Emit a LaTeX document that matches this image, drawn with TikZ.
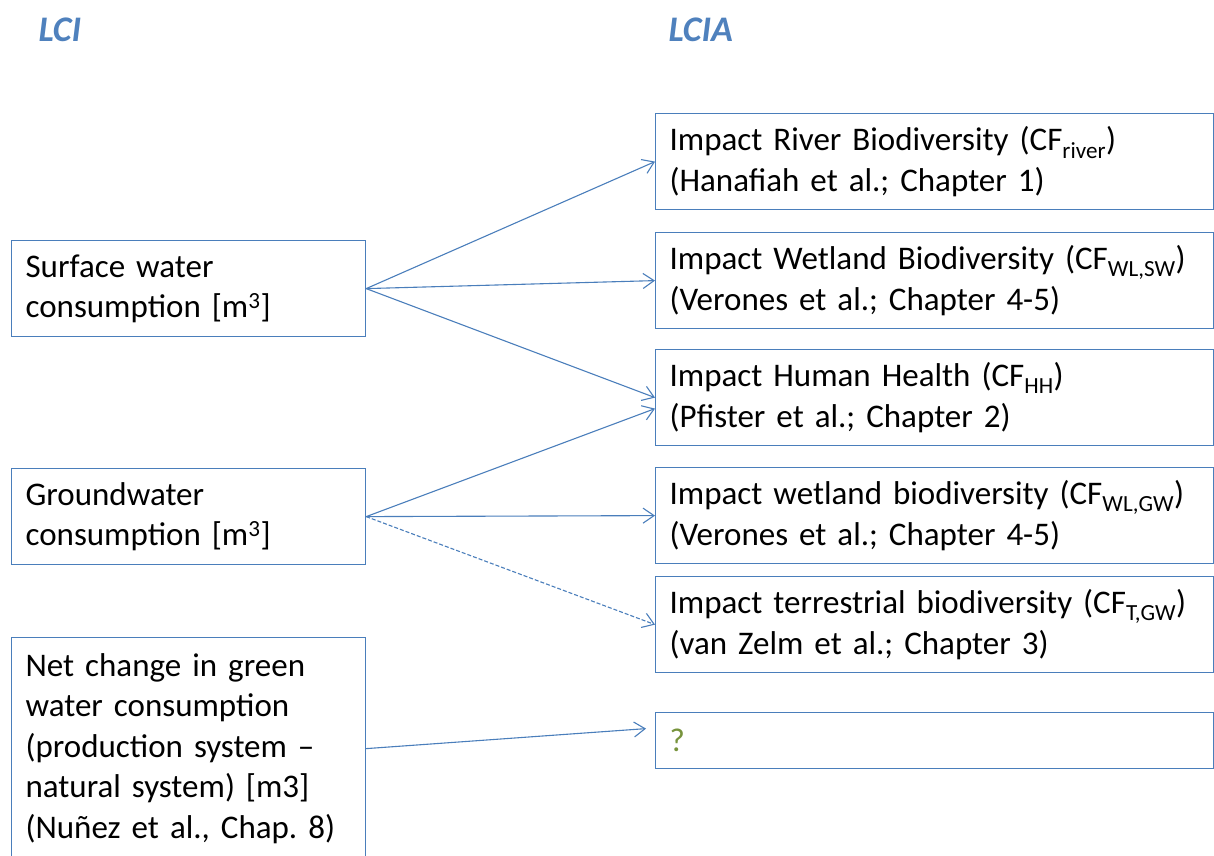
\documentclass[tikz,border=0pt]{standalone}
\usepackage{fontspec}
\setmainfont[WordSpace=0.75]{Carlito}
\usetikzlibrary{arrows.meta}
\definecolor{lineblue}{HTML}{4A7EBB}
\definecolor{titleblue}{HTML}{4F81BD}
\definecolor{qgreen}{HTML}{77933C}
\frenchspacing
\tikzset{
  box/.style={draw=lineblue, line width=1.2pt, anchor=north west, inner xsep=14pt, inner ysep=0pt, align=left, font=\fontsize{33}{40.5}\selectfont},
  lbox/.style={box, text width=326pt, minimum height=96pt},
  rbox/.style={box, text width=530pt, minimum height=96pt},
  arr/.style={draw=lineblue, line width=1.1pt, -{Straight Barb[length=11pt,width=15pt,line width=1.1pt]}},
  title/.style={anchor=west, text=titleblue, font=\fontsize{36}{40}\selectfont\bfseries\itshape}
}
\begin{document}
\begin{tikzpicture}[x=1pt,y=-1pt]
\useasboundingbox (0,0) rectangle (1214,855);
\node[title] (lci) at (35,30) {LCI};
\node[title] (lcia) at (665,30) {LCIA};

\node[lbox] (sw) at (11,240) {Surface water\\consumption [m\textsuperscript{3}]};
\node[lbox] (gw) at (11,468) {Groundwater\\consumption [m\textsuperscript{3}]};
\node[lbox, minimum height=222pt] (gr) at (11,637) {Net change in green\\water consumption\\(production system --\\natural system) [m3]\\(Nuñez et al., Chap. 8)};

\node[rbox] (river) at (655,113) {Impact River Biodiversity (CF\textsubscript{river})\\(Hanafiah et al.; Chapter 1)};
\node[rbox] (wlsw) at (655,232) {Impact Wetland Biodiversity (CF\textsubscript{WL,SW})\\(Verones et al.; Chapter 4-5)};
\node[rbox] (hh) at (655,349) {Impact Human Health (CF\textsubscript{HH})\\(Pfister et al.; Chapter 2)};
\node[rbox] (wlgw) at (655,467) {Impact wetland biodiversity (CF\textsubscript{WL,GW})\\(Verones et al.; Chapter 4-5)};
\node[rbox] (terr) at (655,576) {Impact terrestrial biodiversity (CF\textsubscript{T,GW})\\(van Zelm et al.; Chapter 3)};
\node[rbox, minimum height=56pt, text=qgreen] (q) at (655,712) {?};

\draw[arr] (sw.east) -- (river.west);
\draw[arr] (sw.east) -- (wlsw.west);
\draw[arr] (sw.east) -- (hh.west);
\draw[arr] (gw.east) -- ([shift={(0,11)}]hh.west);
\draw[arr] (gw.east) -- (wlgw.west);
\draw[arr, dashed, dash pattern=on 4pt off 2pt] (gw.east) -- (terr.west);
\draw[arr] (gr.east) -- ([shift={(-9,-12)}]q.west);
\end{tikzpicture}
\end{document}
